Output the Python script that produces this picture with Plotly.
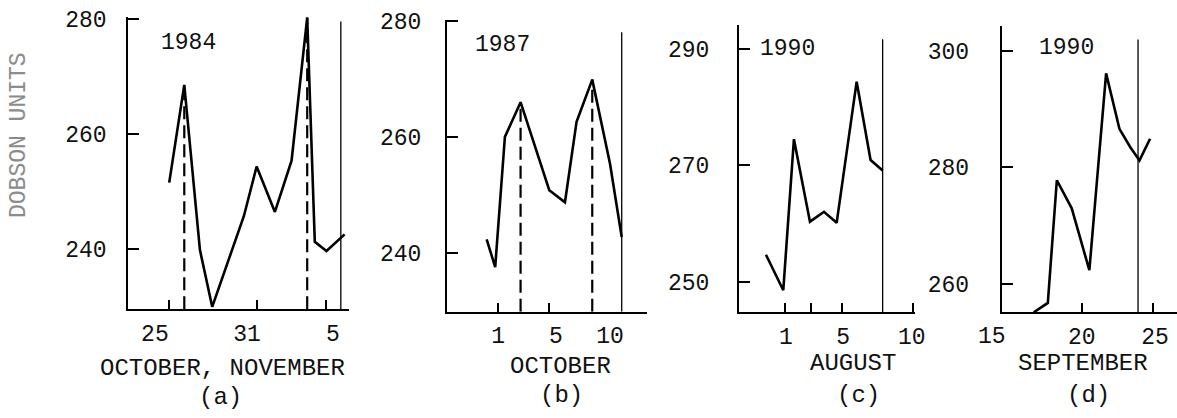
import plotly.graph_objects as go

W, H = 1177, 418

# ---------------- data ----------------
# (a) 1984, October-November (day index: Oct 25 = 25 ... Nov 5 = 36)
a_x = [25.0, 26.03, 27.1, 27.94, 30.11, 30.98, 32.23, 33.37, 34.44, 34.96, 35.76, 37.0]
a_y = [251.6, 268.6, 239.9, 230.0, 245.8, 254.4, 246.5, 255.4, 280.3, 241.3, 239.7, 242.6]
a_dash_x = [26.03, 34.44]
a_dash_top = [268.6, 280.3]
a_vline_x = [36.74]
a_vline_top = [279.6]
a_xlabel_vals = [24.02, 30.32, 36.2]
a_xlabel_text = ["25", "31", "5"]
a_xmarks = [25, 31, 35.73]
a_yticks = [240, 260, 280]

# (b) 1987, October
b_x = [0.09, 0.76, 1.52, 2.75, 5.0, 6.23, 7.14, 8.37, 9.76, 10.68]
b_y = [242.3, 237.5, 260.0, 266.0, 250.8, 248.7, 262.6, 269.9, 255.4, 242.7]
b_dash_x = [2.75, 8.37]
b_dash_top = [266.0, 269.9]
b_vline_x = [10.68]
b_vline_top = [278.1]
b_xlabel_vals = [1.0, 5.53, 9.76]
b_xlabel_text = ["1", "5", "10"]
b_xmarks = [1, 5]
b_yticks = [240, 260, 280]

# (c) 1990, August
c_x = [-0.34, 0.88, 1.63, 2.76, 3.75, 4.64, 6.05, 7.03, 7.88]
c_y = [254.6, 248.5, 274.5, 260.3, 262.0, 260.1, 284.4, 270.9, 269.1]
c_vline_x = [7.88]
c_vline_top = [291.7]
c_xlabel_vals = [1.07, 5.1, 9.93]
c_xlabel_text = ["1", "5", "10"]
c_xmarks = [1, 2.8, 5, 10]
c_yticks = [250, 270, 290]

# (d) 1990, September
d_x = [16.65, 17.63, 18.26, 19.3, 20.53, 21.7, 22.63, 23.38, 24.03, 24.77]
d_y = [255.2, 256.8, 277.8, 273.0, 262.4, 296.1, 286.6, 283.5, 281.2, 284.9]
d_vline_x = [23.93]
d_vline_top = [301.9]
d_xlabel_vals = [20, 25.12]
d_xlabel_text = ["20", "25"]
d_extra_label_text = "15"   # drawn just left of the (d) axis origin
d_xmarks = [20, 25]
d_yticks = [260, 280, 300]

years = ["1984", "1987", "1990", "1990"]
months = ["OCTOBER, NOVEMBER", "OCTOBER", "AUGUST", "SEPTEMBER"]
letters = ["(a)", "(b)", "(c)", "(d)"]
ytitle = "DOBSON UNITS"

# ---------------- layout geometry (pixels) ----------------
panels = [
    dict(x=a_x, y=a_y, dash_x=a_dash_x, dash_top=a_dash_top, vx=a_vline_x, vtop=a_vline_top,
         lv=a_xlabel_vals, lt=a_xlabel_text, marks=a_xmarks, yt=a_yticks,
         px=(128.3, 349.0), py=(16.7, 309.3), xr=[22.2, 37.3], yr=[229.57, 280.45], ystand=15),
    dict(x=b_x, y=b_y, dash_x=b_dash_x, dash_top=b_dash_top, vx=b_vline_x, vtop=b_vline_top,
         lv=b_xlabel_vals, lt=b_xlabel_text, marks=b_xmarks, yt=b_yticks,
         px=(447.0, 646.7), py=(20.0, 311.7), xr=[-3.02, 12.64], yr=[229.8, 280.2], ystand=19),
    dict(x=c_x, y=c_y, dash_x=[], dash_top=[], vx=c_vline_x, vtop=c_vline_top,
         lv=c_xlabel_vals, lt=c_xlabel_text, marks=c_xmarks, yt=c_yticks,
         px=(739.0, 915.0), py=(25.0, 312.3), xr=[-2.24, 10.16], yr=[244.7, 294.15], ystand=23),
    dict(x=d_x, y=d_y, dash_x=[], dash_top=[], vx=d_vline_x, vtop=d_vline_top,
         lv=d_xlabel_vals, lt=d_xlabel_text, marks=d_xmarks, yt=d_yticks,
         px=(1001.7, 1177.0), py=(26.0, 312.3), xr=[14.41, 26.65], yr=[255.2, 304.2], ystand=26),
]

NUMFONT = dict(family="Liberation Mono", size=23, color="#111")
TXTFONT = dict(family="Liberation Mono", size=24, color="#111")

fig = go.Figure()
layout = dict(width=W, height=H, margin=dict(l=0, r=0, t=0, b=0, pad=0, autoexpand=False),
              paper_bgcolor="white", plot_bgcolor="white", showlegend=False,
              autosize=False, annotations=[])

for i, p in enumerate(panels):
    n = "" if i == 0 else str(i + 1)
    xa, ya = "x" + n, "y" + n
    ymin = p["yr"][0]
    fig.add_trace(go.Scatter(x=p["x"], y=p["y"], mode="lines", xaxis=xa, yaxis=ya,
                             line=dict(color="black", width=2.6), hoverinfo="skip"))
    for dx, dt in zip(p["dash_x"], p["dash_top"]):
        fig.add_trace(go.Scatter(x=[dx, dx], y=[ymin, dt], mode="lines", xaxis=xa, yaxis=ya,
                                 line=dict(color="black", width=2.2, dash="13px,6px"), hoverinfo="skip"))
    for vx, vt in zip(p["vx"], p["vtop"]):
        fig.add_trace(go.Scatter(x=[vx, vx], y=[ymin, vt], mode="lines", xaxis=xa, yaxis=ya,
                                 line=dict(color="black", width=1.3), hoverinfo="skip"))
    layout["xaxis" + n] = dict(
        domain=[p["px"][0] / W, p["px"][1] / W], range=p["xr"], anchor=ya,
        showline=True, linecolor="black", linewidth=2, showgrid=False, zeroline=False,
        tickmode="array", tickvals=p["lv"], ticktext=p["lt"], ticks="",
        tickfont=NUMFONT, ticklabelstandoff=2, automargin=False,
        minor=dict(tickmode="array", tickvals=p["marks"], ticks="inside", ticklen=9,
                   tickwidth=2, tickcolor="black", showgrid=False),
        fixedrange=True)
    layout["yaxis" + n] = dict(
        domain=[1 - p["py"][1] / H, 1 - p["py"][0] / H], range=p["yr"], anchor=xa,
        showline=True, linecolor="black", linewidth=2, showgrid=False, zeroline=False,
        tickmode="array", tickvals=p["yt"], ticks="inside", ticklen=11, tickwidth=2,
        tickcolor="black", tickfont=NUMFONT, ticklabelstandoff=p["ystand"],
        automargin=False, fixedrange=True)

# text annotations
year_pos = [(188, 43), (502, 45), (787, 49), (1066.7, 48.3)]
month_pos = [(222.5, 368.3), (560, 366.7), (853.3, 363.3), (1083, 363.3)]
letter_pos = [(220, 397), (561.7, 395), (858.3, 395), (1088.3, 395)]
for t, (px_, py_) in zip(years, year_pos):
    layout["annotations"].append(dict(text=t, x=px_ / W, y=1 - py_ / H, xref="paper", yref="paper",
                                      showarrow=False, font=NUMFONT, xanchor="center", yanchor="middle"))
for t, (px_, py_) in zip(months, month_pos):
    layout["annotations"].append(dict(text=t, x=px_ / W, y=1 - py_ / H, xref="paper", yref="paper",
                                      showarrow=False, font=TXTFONT, xanchor="center", yanchor="middle"))
for t, (px_, py_) in zip(letters, letter_pos):
    layout["annotations"].append(dict(text=t, x=px_ / W, y=1 - py_ / H, xref="paper", yref="paper",
                                      showarrow=False, font=TXTFONT, xanchor="center", yanchor="middle"))
layout["annotations"].append(dict(text=d_extra_label_text, x=991.7 / W, xref="paper",
                                  y=1 - 336.5 / H, yref="paper", showarrow=False, font=NUMFONT,
                                  xanchor="center", yanchor="middle"))
layout["annotations"].append(dict(text=ytitle, x=19 / W, y=1 - 135 / H, xref="paper", yref="paper",
                                  textangle=-90, showarrow=False,
                                  font=dict(family="Liberation Mono", size=23, color="#8c8c8c"),
                                  xanchor="center", yanchor="middle"))

fig.update_layout(**layout)
fig.write_html(
    "out.html", config={"displayModeBar": False},
    post_script=("document.documentElement.style.margin='0';document.body.style.margin='0';"
                 "document.body.style.overflow='hidden';"
                 "var d=document.getElementById('{plot_id}');"
                 "d.style.position='fixed';d.style.left='0px';d.style.top='0px';"))
